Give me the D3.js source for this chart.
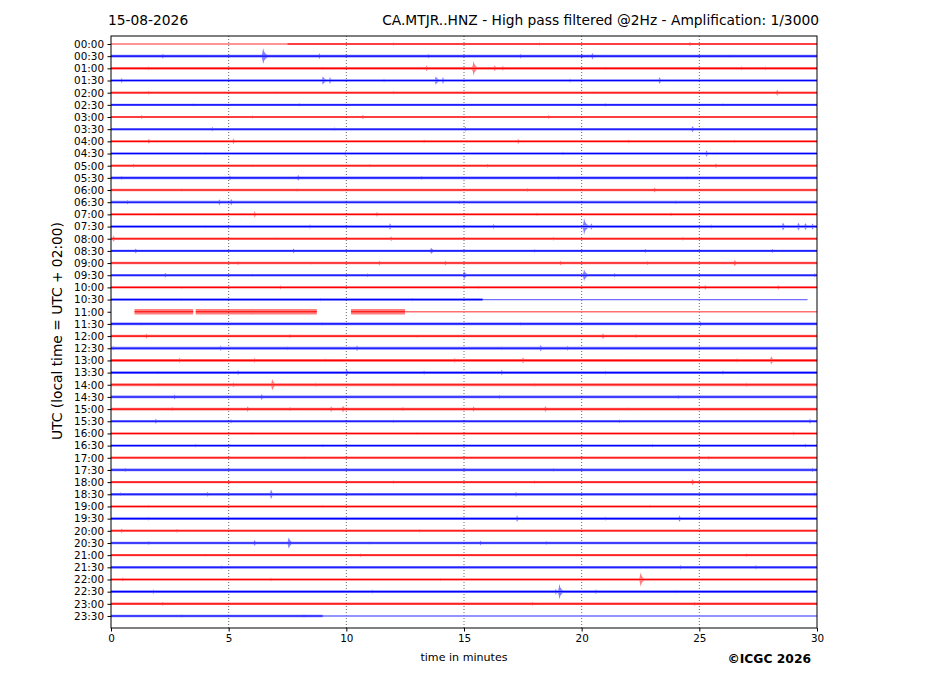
<!DOCTYPE html>
<html><head><meta charset="utf-8">
<script src="https://cdn.jsdelivr.net/npm/d3@7"></script>
<style>body{margin:0;background:#fff}svg{display:block;font-family:"DejaVu Sans",sans-serif}</style>
</head><body><svg id="c" width="927" height="696"></svg>
<script>
// ---------- data ----------
const dateLabel = "15-08-2026";
const titleLabel = "CA.MTJR..HNZ - High pass filtered @2Hz - Amplification: 1/3000";
const rowLabels = ["00:00","00:30","01:00","01:30","02:00","02:30","03:00","03:30","04:00","04:30","05:00","05:30","06:00","06:30","07:00","07:30","08:00","08:30","09:00","09:30","10:00","10:30","11:00","11:30","12:00","12:30","13:00","13:30","14:00","14:30","15:00","15:30","16:00","16:30","17:00","17:30","18:00","18:30","19:00","19:30","20:00","20:30","21:00","21:30","22:00","22:30","23:00","23:30"];
const xTicks = [0,5,10,15,20,25,30];
const gridMinutes = [5,10,15,20,25];
// trace segments per row: [start, end, base amplitude]; base 0 = flat (no signal); default is [0,30,baseNoise]
const segments = {
  0:[[0,7.5,0],[7.5,30,0.9]],
  21:[[0,15.8,1.1],[15.8,29.6,0]],
  22:[[1.0,3.5,2.2],[3.6,8.75,2.2],[10.2,12.5,2.2],[12.5,30,0]],
  47:[[0,9.0,1.0],[9.0,30,0]]
};
const baseNoise = [0.9,1.1,1.1,1.1,1.0,1.0,0.9,1.0,1.0,1.0,1.0,1.1,1.0,1.1,1.0,1.1,1.0,1.0,1.0,1.1,1.0,1.1,2.2,1.1,1.0,1.2,1.2,1.2,1.2,1.1,1.2,1.1,1.0,1.0,1.0,1.1,1.0,1.1,1.0,1.1,1.0,1.1,1.0,1.1,1.0,1.1,1.0,1.0];
// events per row: [minute, amplitude, coda duration]
const events = [
  [[24.6,1.8,0.1],[12.0,1.4,0.05],[18.2,1.4,0.05]],
  [[6.46,7,0.2],[2.2,2.3,0.05],[8.85,2.5,0.05],[13.5,2,0.05],[17.4,2,0.1],[20.0,2.5,0.05],[20.45,3,0.05],[26.3,1.5,0.05],[15.2,1.6,0.05],[4.0,1.5,0.05]],
  [[15.4,6.5,0.15],[13.4,2.6,0.1],[16.3,2.6,0.1],[16.65,2.2,0.05],[26.8,2,0.05],[1.6,1.8,0.05],[27.8,1.8,0.05],[9.0,1.5,0.05],[21.0,1.5,0.05]],
  [[9.0,3.6,0.3],[9.3,2.8,0.1],[13.8,3.6,0.3],[14.1,2.8,0.1],[23.3,2.8,0.15],[0.45,2.2,0.05],[11.6,1.8,0.05],[19.5,1.8,0.05],[5.0,1.5,0.05]],
  [[28.3,2.8,0.1],[1.6,1.8,0.05],[12.0,1.5,0.05],[7.0,1.4,0.05],[20.5,1.4,0.05]],
  [[8.0,1.5,0.05],[21.0,1.5,0.05],[3.5,1.4,0.05],[26.0,1.4,0.05]],
  [[1.3,1.8,0.05],[10.7,2,0.05],[18.6,1.6,0.05],[6.0,1.4,0.05]],
  [[24.7,2.8,0.1],[15.05,2.2,0.05],[4.3,2,0.05],[9.5,1.6,0.05],[20.0,1.5,0.05]],
  [[1.6,2.2,0.15],[5.2,2.5,0.05],[17.3,2.2,0.1],[22.0,1.8,0.05],[13.3,1.6,0.05],[26.5,1.5,0.05]],
  [[25.3,2.8,0.1],[9.95,2.2,0.05],[19.2,1.6,0.05],[4.0,1.4,0.05]],
  [[25.7,2.2,0.05],[0.95,1.8,0.1],[16.0,1.8,0.05],[11.0,1.6,0.05],[6.0,1.4,0.05]],
  [[7.95,2.6,0.1],[5.05,2.2,0.05],[0.45,1.8,0.05],[13.2,1.8,0.05],[19.0,1.6,0.05],[24.5,1.5,0.05]],
  [[23.1,2.2,0.05],[7.9,1.6,0.05],[17.7,1.6,0.05],[3.0,1.4,0.05]],
  [[4.6,2.8,0.05],[5.1,2.8,0.1],[0.7,2,0.05],[14.8,1.8,0.05],[24.0,1.6,0.05],[10.0,1.5,0.05]],
  [[6.1,2.8,0.05],[11.3,2.2,0.05],[23.8,1.8,0.05],[18.1,1.6,0.05],[2.0,1.4,0.05]],
  [[20.1,7,0.2],[20.4,2.8,0.1],[11.85,2.8,0.1],[28.55,3.6,0.1],[29.2,3.6,0.1],[29.5,3.2,0.1],[29.8,2.8,0.1],[16.25,2.2,0.1],[8.45,2,0.05],[25.5,1.8,0.05],[4.0,1.5,0.05]],
  [[0.1,2.8,0.1],[11.9,2.2,0.1],[18.8,1.8,0.05],[24.3,1.6,0.05],[7.0,1.4,0.05]],
  [[13.6,2.8,0.2],[1.05,2.2,0.05],[7.75,2.2,0.05],[28.1,1.8,0.05],[22.7,1.8,0.05],[18.0,1.5,0.05]],
  [[26.5,2.8,0.1],[11.4,2.2,0.05],[14.2,2.2,0.1],[19.1,2.2,0.05],[5.4,1.8,0.05],[22.8,1.8,0.05],[8.5,1.5,0.05]],
  [[20.1,5,0.2],[15.0,3.6,0.15],[2.3,2.2,0.1],[21.4,2,0.05],[29.9,2,0.05],[10.9,1.8,0.05],[6.0,1.5,0.05]],
  [[25.25,2.2,0.05],[28.35,2,0.05],[7.2,1.8,0.05],[15.6,1.6,0.05],[3.0,1.4,0.05]],
  [[8.9,1.6,0.05],[12.8,1.6,0.05],[3.0,1.4,0.05]],
  [[2.0,2.8,0.05],[6.0,2.8,0.05],[11.2,2.6,0.05]],
  [[25.05,2.2,0.05],[1.3,1.6,0.05],[17.4,1.6,0.05],[9.0,1.5,0.05]],
  [[1.5,2.2,0.1],[20.9,2.5,0.1],[7.6,1.8,0.05],[22.3,1.8,0.05],[13.0,1.5,0.05]],
  [[18.25,2.8,0.15],[10.45,2.5,0.1],[19.4,2.2,0.05],[4.65,2.2,0.1],[0.1,2,0.05],[25.0,2,0.05],[16.6,1.8,0.05],[7.5,1.6,0.05]],
  [[28.05,3.6,0.15],[17.5,2.8,0.1],[2.9,2.3,0.15],[6.1,2.3,0.05],[14.6,2.2,0.1],[26.6,2,0.05],[9.1,1.8,0.05],[22.0,1.6,0.05]],
  [[10.0,3,0.2],[5.4,2.2,0.05],[16.6,2.5,0.05],[13.3,2,0.05],[26.0,2,0.05],[21.0,1.8,0.05],[2.0,1.5,0.05]],
  [[6.85,5,0.15],[5.2,2.3,0.05],[8.7,2,0.05],[27.0,2,0.05],[2.0,1.8,0.05],[18.0,1.8,0.05],[12.0,1.6,0.05]],
  [[6.4,2.8,0.05],[2.7,2.2,0.05],[16.5,1.8,0.05],[24.1,1.8,0.05],[10.0,1.5,0.05]],
  [[9.85,3,0.15],[9.35,2.5,0.1],[5.8,2.5,0.1],[15.4,2.5,0.05],[18.45,2.5,0.2],[7.6,2,0.05],[2.6,2,0.05],[12.4,2,0.05],[22.0,1.6,0.05]],
  [[1.9,2.2,0.1],[29.7,2.2,0.05],[5.1,1.8,0.05],[21.6,1.6,0.05],[12.0,1.5,0.05]],
  [[29.0,1.8,0.05],[13.0,1.6,0.05],[6.0,1.4,0.05]],
  [[3.6,1.6,0.05],[23.0,1.6,0.05],[29.5,1.8,0.05],[9.0,1.4,0.05]],
  [[25.4,1.8,0.05],[8.2,1.6,0.05],[15.0,1.4,0.05]],
  [[29.8,2,0.05],[0.6,1.8,0.05],[18.8,1.6,0.05],[10.0,1.4,0.05]],
  [[24.7,2.8,0.1],[5.0,2.2,0.05],[12.0,1.6,0.05],[18.0,1.5,0.05]],
  [[6.8,4.5,0.05],[4.1,2.2,0.05],[17.2,2.2,0.1],[29.9,2,0.05],[0.4,1.8,0.05],[11.0,1.5,0.05]],
  [[1.6,1.6,0.05],[22.9,1.6,0.05],[9.0,1.4,0.05]],
  [[17.25,2.8,0.1],[24.15,2.8,0.1],[1.6,1.8,0.05],[21.0,1.8,0.05],[10.0,1.6,0.05]],
  [[0.45,2,0.1],[2.8,1.8,0.05],[13.1,1.6,0.05],[20.0,1.4,0.05]],
  [[7.55,5,0.15],[6.1,2.8,0.05],[15.7,2.2,0.05],[1.6,1.8,0.05],[18.5,1.8,0.05],[11.0,1.5,0.05]],
  [[10.6,1.6,0.05],[27.0,1.6,0.05],[4.0,1.4,0.05]],
  [[4.7,1.8,0.05],[24.2,2,0.05],[27.4,2,0.05],[15.0,1.5,0.05]],
  [[22.5,6,0.15],[0.5,2,0.05],[6.8,1.8,0.05],[14.0,1.5,0.05]],
  [[19.05,6.5,0.15],[18.9,2.5,0.05],[1.8,2,0.05],[20.6,2.2,0.05],[11.1,1.8,0.05],[24.0,1.5,0.05]],
  [[2.2,1.8,0.05],[17.9,1.8,0.05],[24.8,1.8,0.05],[10.0,1.4,0.05]],
  [[8.2,1.6,0.05],[3.0,1.4,0.05]]
];
const rowColors = ["#ff0000","#0000ff"];
const flatColors = ["#ff7070","#7070ff"];

// ---------- layout ----------
const svg = d3.select("#c");
const L=111, R=817, T=36, B=628;
const x = d3.scaleLinear().domain([0,30]).range([L,R]);
const y = d3.scaleLinear().domain([-0.657,47.986]).range([T,B]);
const amp = d3.scaleLinear().domain([0,10]).range([0,1]); // amplitude units -> rows

// grid
svg.append("g").selectAll("line").data(gridMinutes).join("line")
  .attr("x1",d=>x(d)).attr("x2",d=>x(d)).attr("y1",T).attr("y2",B)
  .attr("stroke","#444").attr("stroke-width",0.8).attr("stroke-dasharray","1,2");

// traces
const step = 0.015;
function envelope(row, t, base){
  let a = base;
  for(const [t0,A,dur] of events[row]){
    const d = t - t0;
    const w = d>=0 ? (0.6*Math.exp(-d/0.05) + 0.4*Math.exp(-d/dur)) : Math.exp(d/0.03);
    a = Math.max(a, A*w);
  }
  return a;
}
const areaGen = d3.area().x(d=>x(d.t)).y0(d=>y(d.r + amp(d.a))).y1(d=>y(d.r - amp(d.a)));
const lineGen = d3.line().x(d=>x(d.t)).y(d=>y(d.r));
const g = svg.append("g");
rowLabels.forEach((lab,i)=>{
  const col = rowColors[i%2];
  const segs = segments[i] || [[0,30,baseNoise[i]]];
  segs.forEach(([s,e,b])=>{
    if(b === 0){
      // flat trace: thin, lighter line
      g.append("path").datum([{t:s,r:i},{t:e,r:i}]).attr("d",lineGen)
        .attr("stroke",flatColors[i%2]).attr("stroke-width",1.3).attr("fill","none");
      return;
    }
    const pts = d3.range(s,e+1e-9,step).map(t=>({t, r:i, a:envelope(i,t,b)}));
    g.append("path").datum(pts).attr("d",areaGen).attr("fill",col).attr("fill-opacity",0.5).attr("stroke","none");
    g.append("path").datum([{t:s,r:i},{t:e,r:i}]).attr("d",lineGen).attr("stroke",col).attr("stroke-width",1.1).attr("fill","none");
  });
});

// frame
svg.append("rect").attr("x",L).attr("y",T).attr("width",R-L).attr("height",B-T).attr("fill","none").attr("stroke","#000").attr("stroke-width",1);

// y axis
const yAxis = d3.axisLeft(y).tickValues(d3.range(rowLabels.length)).tickFormat(i=>rowLabels[i]).tickSize(3.5).tickPadding(3.5);
const ya = svg.append("g").attr("transform",`translate(${L},0)`).call(yAxis);
ya.select(".domain").remove();
ya.selectAll("text").attr("font-size","10.4px").attr("font-family","DejaVu Sans").attr("fill","#000");
ya.selectAll("line").attr("stroke","#000");

// x axis
const xAxis = d3.axisBottom(x).tickValues(xTicks).tickSize(3.5).tickPadding(3.5);
const xa = svg.append("g").attr("transform",`translate(0,${B})`).call(xAxis);
xa.select(".domain").remove();
xa.selectAll("text").attr("font-size","10.4px").attr("font-family","DejaVu Sans").attr("fill","#000");
xa.selectAll("line").attr("stroke","#000");

// texts
svg.append("text").attr("x",108).attr("y",25).attr("font-size","13.8px").text(dateLabel);
svg.append("text").attr("x",819).attr("y",25).attr("text-anchor","end").attr("font-size","13.8px").text(titleLabel);
svg.append("text").attr("transform","translate(62,331) rotate(-90)").attr("text-anchor","middle").attr("font-size","13.8px").text("UTC (local time = UTC + 02:00)");
svg.append("text").attr("x",464).attr("y",661).attr("text-anchor","middle").attr("font-size","11.1px").text("time in minutes");
svg.append("text").attr("x",811).attr("y",663).attr("text-anchor","end").attr("font-size","12.3px").attr("font-weight","bold").text("©ICGC 2026");
</script></body></html>
